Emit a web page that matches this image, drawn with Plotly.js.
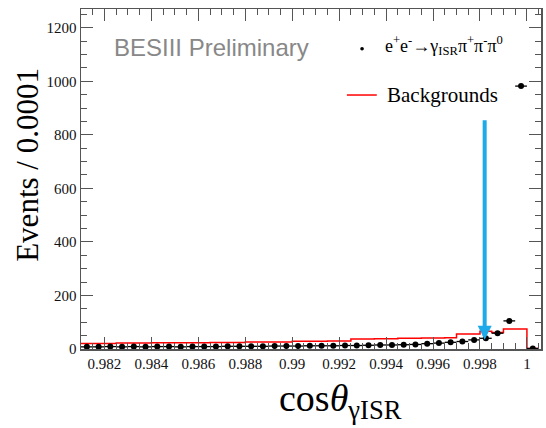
<!DOCTYPE html>
<html>
<head>
<meta charset="utf-8">
<script src="https://cdn.plot.ly/plotly-3.0.1.min.js"></script>
<style>html,body{margin:0;padding:0;background:#fff;}#chart{width:546px;height:428px;}</style>
</head>
<body>
<div id="chart"></div>
<script>
// bin lower edges (bin width 0.0005)
const binLow = [0.9810,0.9815,0.9820,0.9825,0.9830,0.9835,0.9840,0.9845,0.9850,0.9855,
                0.9860,0.9865,0.9870,0.9875,0.9880,0.9885,0.9890,0.9895,0.9900,0.9905,
                0.9910,0.9915,0.9920,0.9925,0.9930,0.9935,0.9940,0.9945,0.9950,0.9955,
                0.9960,0.9965,0.9970,0.9975,0.9980,0.9985,0.9990,0.9995,1.0000];
const binWidth = 0.0005;
// data: e+e- -> gamma_ISR pi+ pi- pi0
const dataCounts = [8,8,9,8,9,8,9,9,8,9,
                    9,9,10,10,10,10,11,11,11,12,
                    12,12,13,13,14,15,15,16,17,20,
                    22,25,28,34,40,59,105,982,2];
// backgrounds histogram
const bkgCounts = [21,21,21,22,22,22,23,23,23,23,
                   23,24,24,24,26,26,26,26,29,29,
                   29,30,30,37,37,38,38,40,40,41,
                   41,42,56,56,66,62,75,75,2];
const xTicks = [0.982,0.984,0.986,0.988,0.99,0.992,0.994,0.996,0.998,1];
const xTickText = ['0.982','0.984','0.986','0.988','0.99','0.992','0.994','0.996','0.998','1'];
const yTicks = [0,200,400,600,800,1000,1200];
const cutValue = 0.9982;
const arrowTop = 860;
const arrowTip = 35;

const binCenters = binLow.map(v => v + binWidth/2);
const stepX = binLow.concat([binLow[binLow.length-1] + binWidth]);
const stepY = bkgCounts.concat([bkgCounts[bkgCounts.length-1]]);

const serif = "Liberation Serif";

const traces = [
  {
    x: stepX, y: stepY, type: 'scatter', mode: 'lines',
    line: {shape: 'hv', color: '#ff0000', width: 1.5},
    name: 'Backgrounds', hoverinfo: 'skip'
  },
  {
    x: binCenters, y: dataCounts, type: 'scatter', mode: 'markers',
    marker: {color: '#000', size: 6},
    error_x: {type: 'constant', value: binWidth/2, width: 0, thickness: 1.3, color: '#000'},
    name: 'data'
  }
];

const layout = {
  width: 546, height: 428,
  margin: {l: 81, r: 5, t: 9, b: 79},
  paper_bgcolor: '#fff', plot_bgcolor: '#fff',
  showlegend: false,
  font: {family: serif, color: '#000'},
  xaxis: {
    range: [0.981, 1.0006], showgrid: false, zeroline: false,
    showline: true, linecolor: '#555', linewidth: 1.5, mirror: 'ticks',
    ticks: 'inside', ticklen: 12, tickcolor: '#555', tickwidth: 1,
    tickvals: xTicks, ticktext: xTickText,
    tickfont: {family: 'Liberation Serif', size: 15, color: '#111'},
    minor: {ticks: 'inside', ticklen: 6, dtick: 0.0005, tickcolor: '#555', tickwidth: 1, showgrid: false}
  },
  yaxis: {
    range: [0, 1270], showgrid: false, zeroline: false,
    showline: true, linecolor: '#555', linewidth: 1.5, mirror: 'ticks',
    ticks: 'inside', ticklen: 12, tickcolor: '#555', tickwidth: 1,
    tickvals: yTicks, ticklabelstandoff: 0,
    tickfont: {family: 'Liberation Serif', size: 15, color: '#111'},
    minor: {ticks: 'inside', ticklen: 6, dtick: 50, tickcolor: '#555', tickwidth: 1, showgrid: false}
  },
  annotations: [
    {xref: 'paper', yref: 'paper', x: -0.115, y: 0.542, xanchor: 'center', yanchor: 'middle',
     text: 'Events / 0.0001', textangle: -90, showarrow: false,
     font: {family: serif, size: 31, color: '#000'}},
    {xref: 'paper', yref: 'paper', x: 0.068, y: 0.888, xanchor: 'left', yanchor: 'middle',
     text: 'BESIII Preliminary', showarrow: false,
     font: {family: 'Liberation Sans', size: 24, color: '#888'}},
    {xref: 'paper', yref: 'paper', x: 0.657, y: 0.893, xanchor: 'left', yanchor: 'middle',
     text: 'e<sup>+</sup>e<sup>-</sup>→γ<sub>ISR</sub>π<sup>+</sup>π<sup>-</sup>π<sup>0</sup>', showarrow: false,
     font: {family: serif, size: 18, color: '#000'}},
    {xref: 'paper', yref: 'paper', x: 0.66, y: 0.747, xanchor: 'left', yanchor: 'middle',
     text: 'Backgrounds', showarrow: false,
     font: {family: serif, size: 21, color: '#000'}},
    {xref: 'paper', yref: 'paper', x: 0.565, y: -0.228, xanchor: 'center', yanchor: 'bottom',
     text: 'cos<i>θ</i><sub>γISR</sub>', showarrow: false,
     font: {family: serif, size: 38, color: '#000'}},
    {x: cutValue, y: arrowTip, ax: cutValue, ay: arrowTop, axref: 'x', ayref: 'y',
     showarrow: true, arrowhead: 2, arrowsize: 0.7, arrowwidth: 4, arrowcolor: '#1ea9e8', text: ''}
  ],
  shapes: [
    {type: 'circle', xref: 'paper', yref: 'paper', x0: 0.607, x1: 0.615, y0: 0.878, y1: 0.888,
     fillcolor: '#000', line: {width: 0}},
    {type: 'line', xref: 'paper', yref: 'paper', x0: 0.578, x1: 0.643, y0: 0.747, y1: 0.747,
     line: {color: '#ff0000', width: 1.5}}
  ]
};

Plotly.newPlot('chart', traces, layout, {displayModeBar: false, staticPlot: true});
</script>
</body>
</html>
